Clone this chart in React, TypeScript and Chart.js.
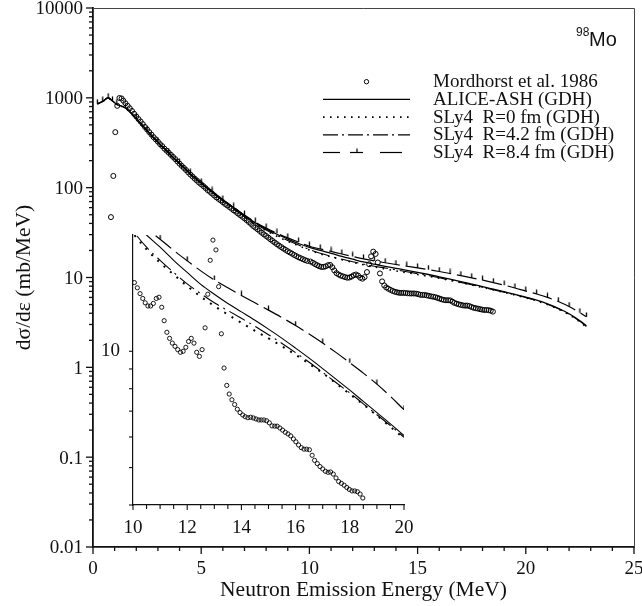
import React, { useEffect, useRef } from 'react';
import { Chart, registerables } from 'chart.js';

Chart.register(...registerables);

const SERIF = "'Liberation Serif', 'Times New Roman', serif";
const SANS = "'Liberation Sans', Arial, sans-serif";
const INK = '#111';

// ---------------- data ----------------
// Experimental points: Mordhorst et al. 1986 (MeV, mb/MeV)
const expEnergy = [
  0.83, 0.94, 1.03, 1.12, 1.22, 1.32,
  1.4, 1.5, 1.6, 1.7, 1.8, 1.9, 2.0, 2.1, 2.2, 2.3,
  2.4, 2.5, 2.6, 2.7, 2.8, 2.9, 3.0, 3.1, 3.2, 3.3,
  3.4, 3.5, 3.6, 3.7, 3.8, 3.9, 4.0, 4.1, 4.2, 4.3,
  4.4, 4.5, 4.6, 4.7, 4.8, 4.9, 5.0, 5.1, 5.2, 5.3,
  5.4, 5.5, 5.6, 5.7, 5.8, 5.9, 6.0, 6.1, 6.2, 6.3,
  6.4, 6.5, 6.6, 6.7, 6.8, 6.9, 7.0, 7.1, 7.2, 7.3,
  7.4, 7.5, 7.6, 7.7, 7.8, 7.9, 8.0, 8.1, 8.2, 8.3,
  8.4, 8.5, 8.6, 8.7, 8.8, 8.9, 9.0, 9.1, 9.2, 9.3,
  9.4, 9.5, 9.6, 9.7, 9.8, 9.9,
  10.05, 10.16, 10.26, 10.36, 10.45, 10.55, 10.65, 10.75, 10.86, 10.96,
  11.06, 11.15, 11.25, 11.35, 11.45, 11.55, 11.65, 11.75, 11.85, 11.95,
  12.05, 12.15, 12.25, 12.35, 12.45, 12.55, 12.66, 12.76, 12.85, 12.95,
  13.06, 13.16, 13.26, 13.36, 13.46, 13.55, 13.65, 13.75, 13.85, 13.95,
  14.05, 14.14, 14.24, 14.34, 14.44, 14.54, 14.64, 14.73, 14.83, 14.93,
  15.03, 15.13, 15.23, 15.32, 15.42, 15.52, 15.62, 15.72, 15.82, 15.92,
  16.01, 16.11, 16.21, 16.31, 16.41, 16.51, 16.61, 16.7, 16.8, 16.9,
  17.0, 17.1, 17.2, 17.29, 17.39, 17.49, 17.59, 17.69, 17.79, 17.89,
  17.98, 18.08, 18.18, 18.28, 18.38, 18.48,
];
const expSigma = [
  47, 135, 415, 815, 995, 985,
  930, 870, 815, 765, 715, 665, 620, 580, 545, 510,
  475, 445, 415, 390, 365, 345, 325, 305, 290, 272,
  258, 245, 232, 220, 208, 196, 185, 175, 166, 157,
  148, 140, 133, 126, 120, 114, 109, 104, 99, 94,
  90, 86, 82, 78, 75, 72, 69, 66, 63.5, 61,
  58.5, 56, 54, 51.5, 49.5, 47.5, 45.5, 43.5, 41.5, 39.5,
  37.5, 36, 34.5, 33, 31.5, 30.2, 29, 27.8, 26.6, 25.5,
  24.5, 23.5, 22.6, 21.8, 21.0, 20.3, 19.6, 19.0, 18.4, 17.8,
  17.3, 16.8, 16.4, 16.0, 15.6, 15.3,
  15.06, 14.6, 14.1, 13.7, 13.35, 13.1, 13.1, 13.3, 13.7, 13.8,
  13.0, 12.0, 11.2, 10.8, 10.5, 10.3, 10.1, 9.94, 10.0, 10.24,
  10.6, 10.8, 10.5, 9.94, 9.7, 10.1, 11.5, 14.05, 17.2, 19.4,
  18.3, 14.7, 11.1, 9.05, 8.16, 7.75, 7.49, 7.28, 7.08, 6.94,
  6.84, 6.77, 6.73, 6.75, 6.72, 6.68, 6.64, 6.64, 6.64, 6.61,
  6.53, 6.41, 6.40, 6.40, 6.33, 6.25, 6.17, 6.11, 6.04, 5.93,
  5.83, 5.72, 5.63, 5.58, 5.58, 5.56, 5.38, 5.22, 5.12, 5.03,
  4.96, 4.89, 4.86, 4.87, 4.81, 4.70, 4.60, 4.55, 4.50, 4.44,
  4.39, 4.35, 4.35, 4.33, 4.27, 4.17,
];

// Calculated spectra (MeV, mb/MeV)
const calcEnergy = [
  0.2, 0.45, 0.7, 0.9, 1.1, 1.5, 2, 2.5, 3, 3.5, 4, 4.5, 5, 5.5,
  6, 6.5, 7, 7.5, 8, 8.5, 9, 9.5, 10, 10.5, 11, 11.5, 12, 12.5, 13, 13.5,
  14, 14.5, 15, 15.5, 16, 16.5, 17, 17.5, 18, 18.5, 19, 19.5, 20, 20.5,
  21, 21.5, 22, 22.5, 22.8,
];
const aliceAsh = [
  858, 912, 1000, 920, 845, 770, 587, 430, 320, 243, 185, 143, 112, 90,
  72.5, 59.8, 48.8, 40.6, 34.8, 30.3, 26.8, 23.9, 21.6, 20.0, 18.6, 17.2, 16.0, 14.9, 14.05, 13.3,
  12.65, 12.03, 11.41, 10.8, 10.19, 9.6, 9.02, 8.46, 7.93, 7.42, 6.94, 6.49, 6.05, 5.6,
  5.1, 4.55, 3.95, 3.3, 2.9,
];
const sly4R0 = [
  855, 908, 995, 915, 840, 765, 582, 425, 316, 240, 182, 141, 110.5, 88.5,
  70.5, 57.8, 46.8, 39.0, 33.2, 28.8, 25.3, 22.6, 20.2, 18.35, 16.95, 15.8, 14.75, 13.85, 13.1, 12.45,
  11.85, 11.3, 10.8, 10.3, 9.8, 9.28, 8.78, 8.25, 7.75, 7.28, 6.82, 6.37, 5.95, 5.5,
  5.0, 4.45, 3.85, 3.2, 2.8,
];
const sly4R42 = [
  857, 910, 998, 918, 843, 768, 585, 428, 318, 242, 184, 142, 111.5, 89.5,
  71.3, 58.6, 47.5, 39.7, 33.8, 29.4, 25.8, 23.0, 20.5, 18.6, 17.2, 16.0, 14.95, 14.1, 13.35, 12.75,
  12.17, 11.61, 11.04, 10.48, 9.92, 9.37, 8.82, 8.29, 7.8, 7.31, 6.85, 6.42, 5.99, 5.55,
  5.05, 4.5, 3.9, 3.25, 2.85,
];
const sly4R84 = [
  860, 915, 1005, 925, 850, 775, 590, 432, 322, 245, 186, 144, 113, 91,
  73, 60.5, 49.5, 41.3, 35.5, 31.1, 27.6, 24.8, 22.3, 20.8, 19.5, 18.25, 17.15, 16.15, 15.3, 14.6,
  13.95, 13.35, 12.78, 12.22, 11.66, 11.08, 10.5, 9.92, 9.34, 8.78, 8.22, 7.64, 7.06, 6.55,
  6.0, 5.4, 4.75, 4.05, 3.65,
];

// Axes / labels
const mainXTicks = [0, 5, 10, 15, 20, 25];
const mainYTicks = [0.01, 0.1, 1, 10, 100, 1000, 10000];
const insetXTicks = [10, 12, 14, 16, 18, 20];
const insetYTicks = [4, 5, 6, 7, 8, 9, 10];
const insetYLabels = [10];
const xTitle = 'Neutron Emission Energy (MeV)';
const yTitle = 'dσ/dε (mb/MeV)';
const legendLabels = [
  'Mordhorst et al. 1986',
  'ALICE-ASH (GDH)',
  'SLy4  R=0 fm (GDH)',
  'SLy4  R=4.2 fm (GDH)',
  'SLy4  R=8.4 fm (GDH)',
];
const nucleusMass = '98';
const nucleusSymbol = 'Mo';

// ---------------- styles ----------------
const DASH_R0 = [1.6, 5.4];
const DASH_R42 = [18, 5, 2, 5];
const DASH_R84 = [20, 6];

const pts = (xs: number[], ys: number[]) => xs.map((x, i) => ({ x, y: ys[i] }));

function makeTickImage() {
  const c = document.createElement('canvas');
  c.width = 3;
  c.height = 10;
  const g = c.getContext('2d')!;
  g.strokeStyle = '#000';
  g.lineWidth = 1.3;
  g.beginPath();
  g.moveTo(1.5, 0.5);
  g.lineTo(1.5, 5);
  g.stroke();
  return c;
}

function makeDatasets(inset: boolean, tickImg: HTMLCanvasElement) {
  return [
    {
      label: legendLabels[1],
      data: pts(calcEnergy, aliceAsh),
      borderColor: '#000',
      borderWidth: inset ? 1.1 : 1.3,
      pointRadius: 0,
      cubicInterpolationMode: 'monotone',
    },
    {
      label: legendLabels[2],
      data: pts(calcEnergy, sly4R0),
      borderColor: '#000',
      borderWidth: inset ? 2 : 1.6,
      borderDash: inset ? [2, 6.5] : DASH_R0,
      pointRadius: 0,
      cubicInterpolationMode: 'monotone',
    },
    {
      label: legendLabels[3],
      data: pts(calcEnergy, sly4R42),
      borderColor: '#000',
      borderWidth: 1.1,
      borderDash: DASH_R42,
      pointRadius: 0,
      cubicInterpolationMode: 'monotone',
    },
    {
      label: legendLabels[4],
      data: pts(calcEnergy, sly4R84),
      borderColor: '#000',
      borderWidth: 1.2,
      borderDash: DASH_R84,
      pointStyle: tickImg,
      pointRadius: inset
        ? (ctx: any) => (Number.isInteger(calcEnergy[ctx.dataIndex]) ? 3 : 0)
        : 3,
      cubicInterpolationMode: 'monotone',
    },
    {
      label: legendLabels[0],
      data: pts(expEnergy, expSigma),
      showLine: false,
      pointStyle: 'circle',
      pointRadius: inset ? 2.1 : 2.5,
      pointBorderWidth: inset ? 0.9 : 1,
      pointBorderColor: '#000',
      pointBackgroundColor: 'rgba(0,0,0,0)',
    },
  ];
}

function line(ctx: CanvasRenderingContext2D, x1: number, y1: number, x2: number, y2: number) {
  ctx.beginPath();
  ctx.moveTo(x1, y1);
  ctx.lineTo(x2, y2);
  ctx.stroke();
}

const mainDecor = {
  id: 'mainDecor',
  afterDraw(chart: any) {
    const { ctx, chartArea: a, scales } = chart;
    const x = scales.x;
    const y = scales.y;
    ctx.save();
    ctx.strokeStyle = INK;
    ctx.lineWidth = 1.3;
    // y tick marks (major + log minors)
    for (let i = 0; i < mainYTicks.length; i++) {
      const base = mainYTicks[i];
      const py = y.getPixelForValue(base);
      line(ctx, a.left - 7, py, a.left, py);
      if (i < mainYTicks.length - 1) {
        for (let m = 2; m <= 9; m++) {
          const p = y.getPixelForValue(m * base);
          line(ctx, a.left - 4, p, a.left, p);
        }
      }
    }
    // x tick marks
    for (let e = x.min; e <= x.max; e += 1) {
      const px = x.getPixelForValue(e);
      line(ctx, px, a.bottom, px, a.bottom + (e % 5 === 0 ? 7 : 4));
    }
    // top/right frame
    ctx.strokeStyle = '#444';
    ctx.lineWidth = 1;
    ctx.beginPath();
    ctx.moveTo(a.left, a.top + 0.5);
    ctx.lineTo(a.right + 0.5, a.top + 0.5);
    ctx.lineTo(a.right + 0.5, a.bottom);
    ctx.stroke();

    // legend
    const sx0 = 323;
    const sx1 = 410;
    const tx = 433;
    const baseY = 87.3;
    const rowH = 17.7;
    ctx.fillStyle = INK;
    ctx.strokeStyle = '#000';
    ctx.font = `19px ${SERIF}`;
    ctx.textBaseline = 'alphabetic';
    ctx.textAlign = 'left';
    legendLabels.forEach((lab, i) => {
      const by = baseY + i * rowH;
      ctx.fillText(lab, tx, by);
      const ly = by - 5.6;
      ctx.setLineDash([]);
      ctx.lineWidth = 1.3;
      if (i === 0) {
        ctx.lineWidth = 1;
        ctx.beginPath();
        ctx.arc((sx0 + sx1) / 2, ly, 2.2, 0, Math.PI * 2);
        ctx.stroke();
      } else if (i === 1) {
        line(ctx, sx0, ly, sx1, ly);
      } else if (i === 2) {
        ctx.lineWidth = 1.6;
        ctx.setLineDash(DASH_R0);
        line(ctx, sx0, ly, sx1, ly);
      } else if (i === 3) {
        ctx.lineWidth = 1.2;
        ctx.setLineDash([15, 4, 2, 4]);
        line(ctx, sx0, ly, sx1, ly);
      } else {
        ctx.lineWidth = 1.2;
        line(ctx, sx0, ly, sx0 + 17, ly);
        line(ctx, sx0 + 27, ly, sx0 + 40, ly);
        line(ctx, sx0 + 34, ly - 4, sx0 + 34, ly);
        line(ctx, sx0 + 57, ly, sx0 + 79, ly);
      }
    });
    ctx.setLineDash([]);

    // nucleus label
    ctx.font = `12px ${SANS}`;
    ctx.fillText(nucleusMass, 576, 36);
    ctx.font = `20px ${SANS}`;
    ctx.fillText(nucleusSymbol, 589, 46);
    ctx.restore();
  },
};

const insetDecor = {
  id: 'insetDecor',
  afterDraw(chart: any) {
    const { ctx, chartArea: a, scales } = chart;
    const x = scales.x;
    const y = scales.y;
    ctx.save();
    ctx.strokeStyle = INK;
    ctx.lineWidth = 1.1;
    for (let e = x.min; e <= x.max + 1e-9; e += 0.5) {
      const px = x.getPixelForValue(e);
      line(ctx, px, a.bottom, px, a.bottom + (insetXTicks.includes(e) ? 5 : 4));
    }
    insetYTicks.forEach((v) => {
      const py = y.getPixelForValue(v);
      line(ctx, a.left - 4, py, a.left, py);
    });
    ctx.restore();
  },
};

const tickFont = { family: SERIF, size: 19 };

export default function App() {
  const mainRef = useRef<HTMLCanvasElement>(null);
  const insetRef = useRef<HTMLCanvasElement>(null);

  useEffect(() => {
    const tickImg = makeTickImage();
    const main = new Chart(mainRef.current!, {
      type: 'line',
      data: { datasets: makeDatasets(false, tickImg) as any },
      options: {
        animation: false,
        responsive: false,
        events: [],
        layout: { padding: { top: 8, right: 8, bottom: 0, left: 0 } },
        plugins: { legend: { display: false }, tooltip: { enabled: false } },
        scales: {
          x: {
            type: 'linear',
            min: 0,
            max: 25,
            afterBuildTicks: (s: any) => {
              s.ticks = mainXTicks.map((v) => ({ value: v }));
            },
            afterFit: (s: any) => {
              s.height = 59;
              s.paddingLeft = 0;
              s.paddingRight = 0;
            },
            grid: { display: false, drawTicks: false },
            border: { display: true, color: INK, width: 1.8 },
            ticks: { font: tickFont, color: INK, padding: 11, maxRotation: 0, autoSkip: false },
            title: {
              display: true,
              text: xTitle,
              color: INK,
              font: { family: SERIF, size: 21.5 },
              padding: { top: 0, bottom: 3 },
            },
          },
          y: {
            type: 'logarithmic',
            min: 0.01,
            max: 10000,
            afterBuildTicks: (s: any) => {
              s.ticks = mainYTicks.map((v) => ({ value: v }));
            },
            afterFit: (s: any) => {
              s.width = 93;
              s.paddingTop = 0;
              s.paddingBottom = 0;
            },
            grid: { display: false, drawTicks: false },
            border: { display: true, color: INK, width: 1.8 },
            ticks: {
              font: { ...tickFont, lineHeight: 0.8 },
              color: INK,
              padding: 10,
              labelOffset: 1.5,
              autoSkip: false,
              callback: (v: any) => String(v),
            },
            title: {
              display: true,
              text: yTitle,
              color: INK,
              font: { family: SERIF, size: 21.5 },
              padding: { top: 11, bottom: 0 },
            },
          },
        },
      } as any,
      plugins: [mainDecor],
    });

    const inset = new Chart(insetRef.current!, {
      type: 'line',
      data: { datasets: makeDatasets(true, tickImg) as any },
      options: {
        animation: false,
        responsive: false,
        events: [],
        layout: { padding: { top: 10, right: 16, bottom: 0, left: 0 } },
        plugins: { legend: { display: false }, tooltip: { enabled: false } },
        scales: {
          x: {
            type: 'linear',
            min: 10,
            max: 20,
            afterBuildTicks: (s: any) => {
              s.ticks = insetXTicks.map((v) => ({ value: v }));
            },
            afterFit: (s: any) => {
              s.height = 40;
              s.paddingLeft = 0;
              s.paddingRight = 0;
            },
            grid: { display: false, drawTicks: false },
            border: { display: true, color: INK, width: 1.2 },
            ticks: { font: tickFont, color: INK, padding: 12, maxRotation: 0, autoSkip: false },
          },
          y: {
            type: 'logarithmic',
            min: 4,
            max: 20,
            afterBuildTicks: (s: any) => {
              s.ticks = insetYLabels.map((v) => ({ value: v }));
            },
            afterFit: (s: any) => {
              s.width = 43;
              s.paddingTop = 0;
              s.paddingBottom = 0;
            },
            grid: { display: false, drawTicks: false },
            border: { display: true, color: INK, width: 1.2 },
            ticks: {
              font: { ...tickFont, lineHeight: 0.8 },
              color: INK,
              padding: 13,
              autoSkip: false,
              callback: (v: any) => String(v),
            },
          },
        },
      } as any,
      plugins: [insetDecor],
    });

    return () => {
      main.destroy();
      inset.destroy();
    };
  }, []);

  return (
    <div style={{ position: 'absolute', left: 0, top: 0, width: 642, height: 606, background: '#fff' }}>
      <canvas ref={mainRef} width={642} height={606} style={{ position: 'absolute', left: 0, top: 0 }} />
      <canvas ref={insetRef} width={330} height={320} style={{ position: 'absolute', left: 90, top: 225 }} />
    </div>
  );
}
